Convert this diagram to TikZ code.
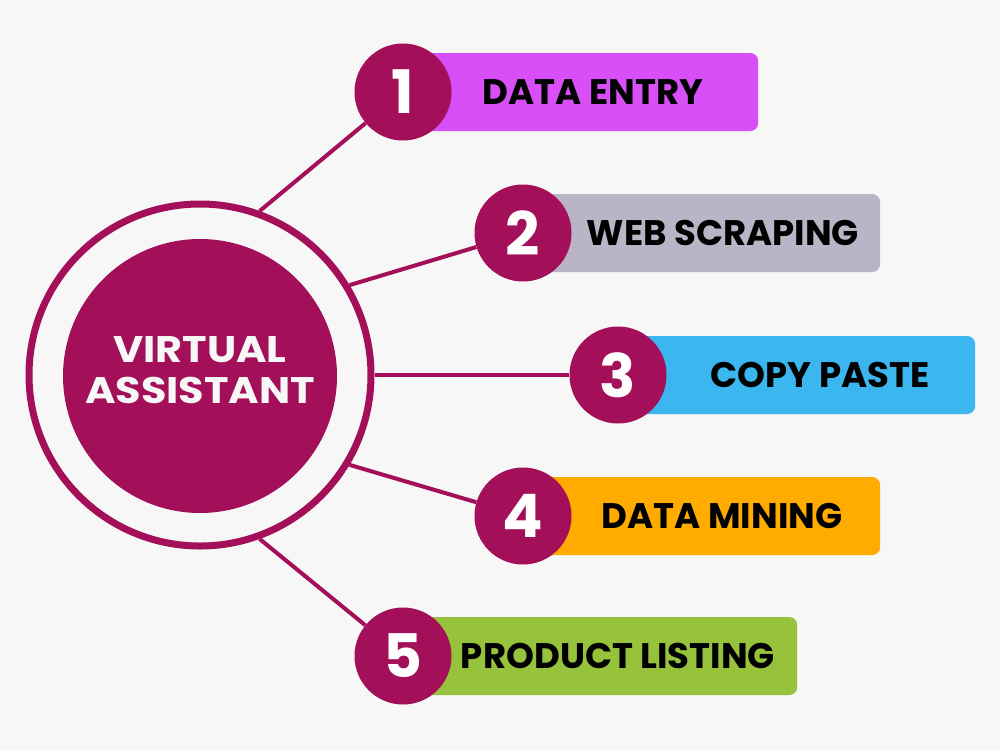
\documentclass[tikz,border=0pt]{standalone}
\usepackage{fontspec}
\setmainfont{Poppins}
\newfontfamily\widefont{Poppins}[FakeStretch=1.12]
\usetikzlibrary{positioning}

\definecolor{canvas}{HTML}{F7F7F7}
\definecolor{berry}{HTML}{A30F58}
\definecolor{barone}{HTML}{D84FF7}
\definecolor{bartwo}{HTML}{BAB4C7}
\definecolor{barthree}{HTML}{3BB6EF}
\definecolor{barfour}{HTML}{FFAB00}
\definecolor{barfive}{HTML}{97C23B}

\begin{document}
\begin{tikzpicture}[
  x=1pt, y=-1pt,
  font=\bfseries,
  % Estilos del centro
  ring/.style={draw=berry, line width=7pt, circle, inner sep=0pt, minimum size=342pt},
  hub/.style={fill=berry, circle, inner sep=0pt, minimum size=274pt},
  hubtext/.style={text=canvas, align=center, inner sep=0pt,
    font=\widefont\fontsize{37}{41}\selectfont\bfseries},
  % Estilos de las ramas
  numdot/.style={fill=berry, circle, inner sep=0pt, minimum size=97pt, text=white,
    font=\fontsize{60}{60}\selectfont\bfseries},
  bar/.style={rectangle, rounded corners=8pt, minimum height=78pt, anchor=west, inner sep=0pt},
  bartext/.style={text=black, font=\fontsize{35.5}{40}\selectfont\bfseries},
  link/.style={draw=berry, line width=4pt}
]
  \fill[canvas] (0,0) rectangle (1000,750);
  \useasboundingbox (0,0) rectangle (1000,750);

  % ==========================================
  % CENTRO: VIRTUAL ASSISTANT
  % ==========================================
  \node[ring] (ring) at (200,375) {};
  \node[hub] (hub) at (200,376) {};
  \node[hubtext] (title) at ([yshift=6pt]hub.center) {VIRTUAL\\ASSISTANT};

  % ==========================================
  % BARRAS (detrás de los círculos)
  % ==========================================
  \node[bar, fill=barone, minimum width=355pt] (b1) at (403,92) {};
  \node[bar, fill=bartwo, minimum width=357pt] (b2) at (523,233) {};
  \node[bar, fill=barthree, minimum width=357pt] (b3) at (618,375) {};
  \node[bar, fill=barfour, minimum width=357pt] (b4) at (523,516) {};
  \node[bar, fill=barfive, minimum width=394pt] (b5) at (403,656) {};

  % ==========================================
  % CÍRCULOS NUMERADOS
  % ==========================================
  \node[numdot] (n1) at (403,92) {1};
  \node[numdot] (n2) at (523,233) {2};
  \node[numdot] (n3) at (618,375) {3};
  \node[numdot] (n4) at (523,516) {4};
  \node[numdot] (n5) at (403,656) {5};

  % Textos de las barras
  \node[bartext] (t1) at (593,92) {DATA ENTRY};
  \node[bartext] (t2) at (723,233) {WEB SCRAPING};
  \node[bartext] (t3) at (820,375) {COPY PASTE};
  \node[bartext] (t4) at (722,516) {DATA MINING};
  \node[bartext] (t5) at (618,656) {PRODUCT LISTING};

  % ==========================================
  % CONEXIONES
  % ==========================================
  \draw[link] (ring.70) -- (n1);
  \draw[link] (ring.31) -- (n2);
  \draw[link] (ring.0) -- (n3);
  \draw[link] (ring.-31) -- (n4);
  \draw[link] (ring.-70) -- (n5);

\end{tikzpicture}
\end{document}
